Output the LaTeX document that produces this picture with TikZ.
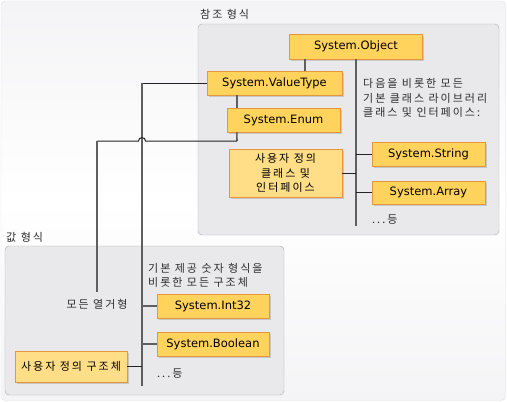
\documentclass[tikz,border=0pt]{standalone}
\usepackage{fontspec}
\setmainfont{DejaVu Sans}
\newfontfamily\kr[LetterSpace=18]{Noto Sans CJK KR}
\usetikzlibrary{shadows}
\definecolor{box_fill}{RGB}{255,211,92}
\definecolor{user_fill}{RGB}{255,222,135}
\definecolor{box_edge}{RGB}{232,150,60}
\definecolor{panel_fill}{RGB}{233,233,236}
\definecolor{panel_edge}{RGB}{172,172,178}
\definecolor{frame_edge}{RGB}{226,226,230}
\definecolor{frame_top}{RGB}{244,244,246}
\definecolor{line_gray}{RGB}{95,95,95}
\definecolor{line_dark}{RGB}{35,35,35}
\definecolor{text_gray}{RGB}{45,45,45}

\begin{document}
\begin{tikzpicture}[x=1pt,y=-1pt,font=\fontsize{11.5}{13}\selectfont]
    \tikzstyle{panel}=[draw=panel_edge, fill=panel_fill, rounded corners=4pt]
    \tikzstyle{tbox}=[draw=box_edge, fill=box_fill, inner sep=0pt, minimum width=113pt, minimum height=24pt, drop shadow={shadow xshift=1.5pt, shadow yshift=-1.5pt, fill=black!22, opacity=1}]
    \tikzstyle{ubox}=[tbox, fill=user_fill, align=center, font={\kr\fontsize{11}{14.5}\selectfont}]
    \tikzstyle{krtext}=[inner sep=0pt, text=text_gray, align=left, font={\kr\fontsize{11}{14.5}\selectfont}]
    \tikzstyle{trunk}=[draw=line_gray, line width=1.6pt]
    \tikzstyle{twig}=[draw=line_dark, line width=1pt]

    \useasboundingbox (0,0) rectangle (507,402);
    \draw[frame_edge, rounded corners=4pt, top color=frame_top, bottom color=frame_top, middle color=white] (1,1) rectangle (505.5,400.5);

    % panels
    \draw[panel] (198,24) rectangle (499,235);
    \draw[panel] (5,246) rectangle (284,395);
    \node[krtext, anchor=west] (reflabel) at (200,14)  {참조 형식};
    \node[krtext, anchor=west] (vallabel) at (6,237)   {값 형식};

    % reference types
    \node[tbox, minimum width=133pt, minimum height=25pt] (obj) at (356,46.5) {System.Object};
    \node[tbox, minimum width=135pt] (vtype) at (274.5,83)  {System.ValueType};
    \node[tbox] (enum)  at (283.5,120)  {System.Enum};
    \node[ubox, minimum height=48pt] (cls) at (285.5,173) {사용자 정의\\클래스 및\\인터페이스};
    \node[tbox] (str)   at (428.5,154)  {System.String};
    \node[tbox, minimum height=23pt] (arr) at (428.5,192.5) {System.Array};
    \node[krtext, anchor=west] (refnote) at (363,98) {다음을 비롯한 모든\\기본 클래스 라이브러리\\클래스 및 인터페이스:};
    \node[krtext, anchor=west] (refetc)  at (372,220) {...등};

    % value types
    \node[tbox, minimum width=112pt] (i32)  at (213,306) {System.Int32};
    \node[tbox, minimum width=112pt] (bool) at (213,344) {System.Boolean};
    \node[ubox, minimum width=112pt, minimum height=31pt] (strct) at (71,366.5) {사용자 정의 구조체};
    \node[krtext, anchor=west, font={\kr\fontsize{11}{13.5}\selectfont}] (valnote) at (148,275.5) {기본 제공 숫자 형식을\\비롯한 모든 구조체};
    \node[krtext] (enumnote) at (97,304) {모든 열거형};
    \node[krtext, anchor=west] (valetc) at (157,374) {...등};

    \coordinate (rl) at (356,226);
    \coordinate (vl) at (142,386);
    \coordinate (el) at (97,292);
    \coordinate (ej) at (237,141);
    \coordinate (hop) at (vl |- ej);

    \draw[trunk] (obj.south) -- (rl);
    \draw[twig] (str.west) -- (str -| rl);
    \draw[twig] (arr.west) -- (arr -| rl);
    \draw[twig] (cls.east) -- (cls -| rl);
    \draw[trunk] ([xshift=30.5pt]vtype.north) -- ([xshift=30.5pt]vtype.north |- obj.south);
    \draw[trunk] ([xshift=30pt]vtype.south west) -- ([xshift=30pt]vtype.south west |- enum.north);

    \draw[twig] (vtype.west) -- (vtype.west -| vl);
    \draw[trunk] (vtype.west -| vl) -- (vl);
    \draw[trunk] (i32.west) -- (i32 -| vl);
    \draw[trunk] (bool.west) -- (bool -| vl);
    \draw[twig] (strct.east) -- (strct -| vl);

    \draw[trunk] ([xshift=10pt]enum.south west) -- (ej);
    \draw[twig] (ej) -- ([xshift=3.5pt]hop) .. controls ([xshift=3.5pt,yshift=4.5pt]hop) and ([xshift=-3.5pt,yshift=4.5pt]hop) .. ([xshift=-3.5pt]hop) -- (el |- ej);
    \draw[trunk] (el |- ej) -- (el);
\end{tikzpicture}
\end{document}
